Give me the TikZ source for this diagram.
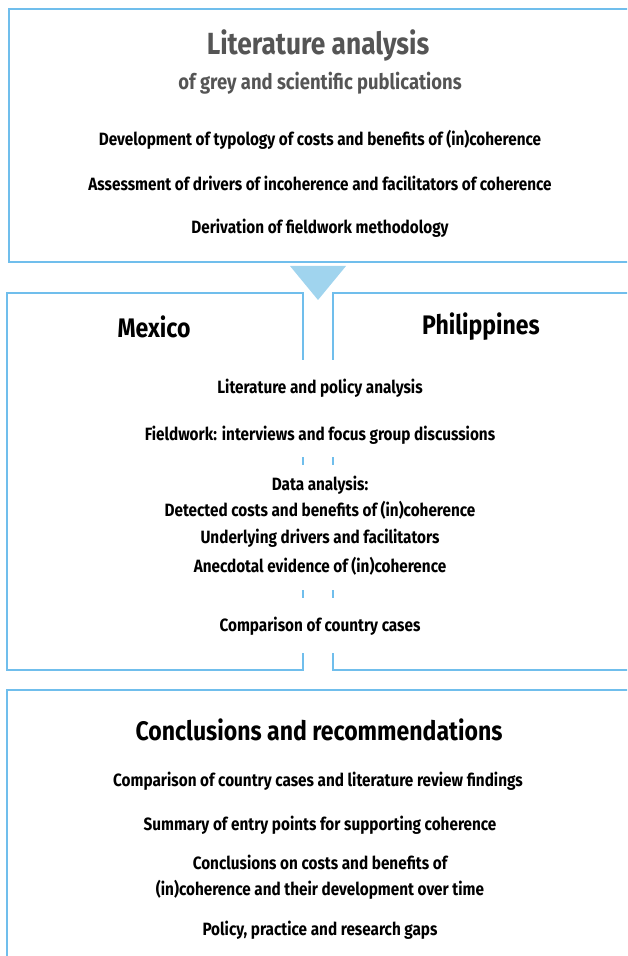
\documentclass[tikz,border=0pt]{standalone}
\usepackage{fontspec}
\setmainfont{Fira Sans}[FakeStretch=0.86]
\usepackage{xcolor}
\definecolor{frameblue}{RGB}{112,190,236}
\definecolor{arrowblue}{RGB}{160,212,238}
\definecolor{titlegrey}{RGB}{85,85,85}

\tikzset{
  frame/.style={line width=1.4pt, frameblue},
  bigtitle/.style={font=\fontsize{15.3}{18}\selectfont\bfseries, inner sep=0pt},
  subtitle/.style={font=\fontsize{10.7}{12}\selectfont\bfseries, inner sep=0pt},
  country/.style={font=\fontsize{13.4}{16}\selectfont\bfseries, inner sep=0pt},
  headline/.style={font=\fontsize{13.4}{16}\selectfont\bfseries, inner sep=0pt},
  item/.style={font=\fontsize{8.9}{11}\selectfont\bfseries, align=center, inner sep=0pt}
}

\begin{document}
\begin{tikzpicture}[x=0.5pt, y=-0.5pt]
  \useasboundingbox (0,0) rectangle (627,956);
  \clip (0,0) rectangle (627,956);

  % Literature box
  \draw[frame] (9,9) rectangle (660,262);
  \node[bigtitle, text=titlegrey] (lit) at (318,45) {Literature analysis};
  \node[subtitle, text=titlegrey] (litsub) at (320,83) {of grey and scientific publications};
  \node[item] (typology) at (320,140) {Development of typology of costs and benefits of (in)coherence};
  \node[item] (drivers)  at (320,183) {Assessment of drivers of incoherence and facilitators of coherence};
  \node[item] (method)   at (320,228) {Derivation of fieldwork methodology};

  % Arrow down
  \fill[arrowblue] (290,266) -- (346,266) -- (318,300) -- cycle;

  % Country boxes
  \draw[frame] (303,360) -- (303,293) -- (7,293) -- (7,670) -- (303,670) -- (303,653); % Mexico
  \draw[frame] (333,360) -- (333,293) -- (660,293); % Philippines top
  \draw[frame] (333,653) -- (333,670) -- (660,670); % Philippines bottom
  \foreach \y in {461, 594}{
    \draw[frame] (303,\y-4) -- (303,\y+4);
    \draw[frame] (333,\y-4) -- (333,\y+4);
  }
  \node[country] (mex) at (154,327) {Mexico};
  \node[country] (phl) at (481,327) {Philippines};
  \node[item] (policy)    at (320,388) {Literature and policy analysis};
  \node[item] (fieldwork) at (320,435) {Fieldwork: interviews and focus group discussions};
  \node[item] (data)      at (320,485) {Data analysis:};
  \node[item] (detected)  at (320,510) {Detected costs and benefits of (in)coherence};
  \node[item] (underlying) at (320,538) {Underlying drivers and facilitators};
  \node[item] (anecdotal) at (320,566) {Anecdotal evidence of (in)coherence};
  \node[item] (compare)   at (320,626) {Comparison of country cases};

  % Conclusions box
  \draw[frame] (7,990) -- (7,690) -- (660,690);
  \node[headline] (concl) at (319,730) {Conclusions and recommendations};
  \node[item] (findings) at (318,781) {Comparison of country cases and literature review findings};
  \node[item] (entry)    at (320,825) {Summary of entry points for supporting coherence};
  \node[item] (costs)    at (320,877) {Conclusions on costs and benefits of\\[2pt](in)coherence and their development over time};
  \node[item] (gaps)     at (320,930) {Policy, practice and research gaps};
\end{tikzpicture}
\end{document}
